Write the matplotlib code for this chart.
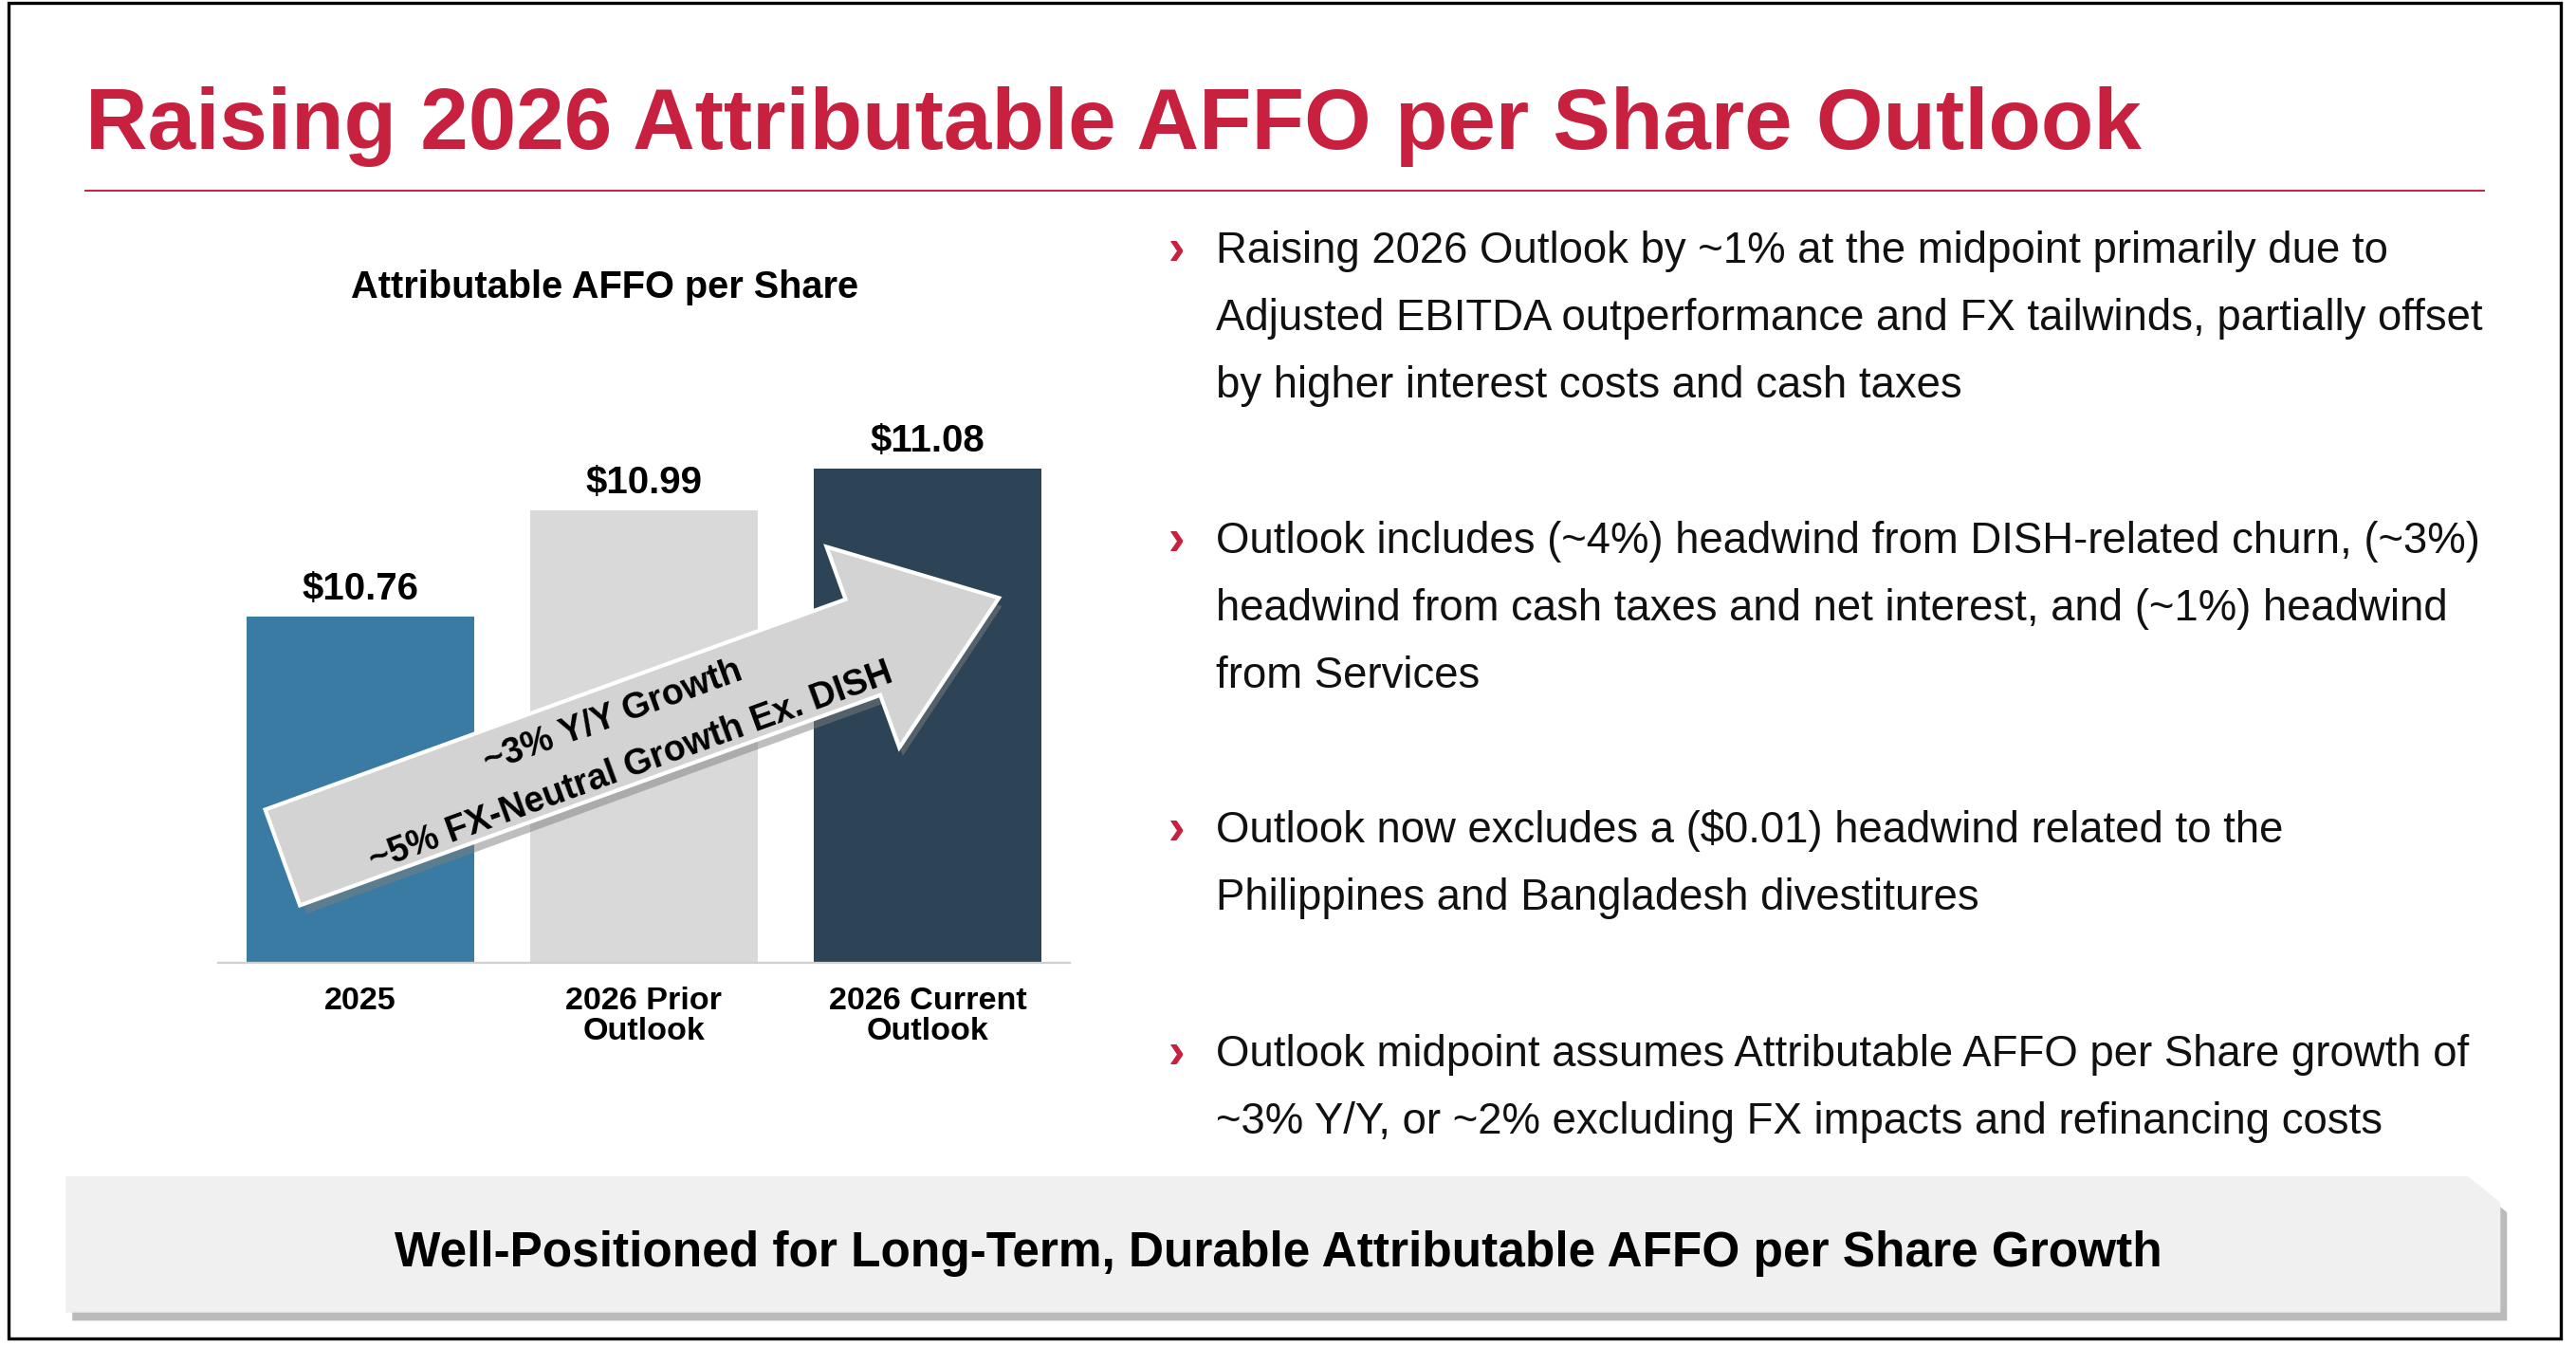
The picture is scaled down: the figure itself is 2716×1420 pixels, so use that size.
import matplotlib
matplotlib.use("Agg")
import matplotlib.pyplot as plt
from matplotlib.patches import FancyArrow, Polygon, Rectangle

plt.rcParams['font.family'] = ['Liberation Sans', 'DejaVu Sans']

categories = ["2025", "2026 Prior\nOutlook", "2026 Current\nOutlook"]
values = [10.76, 10.99, 11.08]
value_labels = ["$10.76", "$10.99", "$11.08"]
colors = ["#3A7BA3", "#D9D9D9", "#2C4456"]
bullets = [
    ["Raising 2026 Outlook by ~1% at the midpoint primarily due to",
     "Adjusted EBITDA outperformance and FX tailwinds, partially offset",
     "by higher interest costs and cash taxes"],
    ["Outlook includes (~4%) headwind from DISH-related churn, (~3%)",
     "headwind from cash taxes and net interest, and (~1%) headwind",
     "from Services"],
    ["Outlook now excludes a ($0.01) headwind related to the",
     "Philippines and Bangladesh divestitures"],
    ["Outlook midpoint assumes Attributable AFFO per Share growth of",
     "~3% Y/Y, or ~2% excluding FX impacts and refinancing costs"],
]
bullet_y = [153, 330, 506, 642]
RED = "#C8203F"

W, H = 1568, 820
fig = plt.figure(figsize=(13.58, 7.10), dpi=200)

x0, x1, ytop, ybot = 133, 651, 240, 586
ax = fig.add_axes([x0 / W, 1 - ybot / H, (x1 - x0) / W, (ybot - ytop) / H], zorder=1)
ax.bar(range(3), values, width=0.8, color=colors, bottom=0)
ax.set_ylim(10.01, 10.01 + 346 * 0.003556)
ax.set_xlim(-0.5, 2.5)
for i, (v, lab) in enumerate(zip(values, value_labels)):
    ax.text(i, v + 0.02, lab, ha="center", va="bottom", fontsize=14.5, fontweight="bold")
ax.set_xticks(range(3))
ax.set_xticklabels(categories, fontsize=12.3, fontweight="bold", linespacing=1.05)
ax.tick_params(length=0, pad=9)
ax.set_yticks([])
for s in ["top", "right", "left"]:
    ax.spines[s].set_visible(False)
ax.spines["bottom"].set_color("#D0D0D0")
ax.patch.set_alpha(0)

ov = fig.add_axes([0, 0, 1, 1], zorder=3)
ov.set_xlim(0, W)
ov.set_ylim(H, 0)
ov.axis("off")
ov.patch.set_alpha(0)

ov.add_patch(Rectangle((5, 2), 1554, 813, fill=False, ec="black", lw=1.2))
ov.text(52, 77, "Raising 2026 Attributable AFFO per Share Outlook", color=RED,
        fontsize=32.7, fontweight="bold", ha="left", va="center")
ov.plot([52, 1512], [116, 116], color=RED, lw=0.7)
ov.text(368, 175, "Attributable AFFO per Share", fontsize=14.3, fontweight="bold",
        ha="center", va="center")

ov.add_patch(FancyArrow(176, 527, 434, -158, width=62, head_width=130, head_length=88,
                        length_includes_head=True, fc="#7F7F7F", ec="none", alpha=0.5,
                        zorder=4))
ov.add_patch(FancyArrow(172, 522, 436, -158, width=62, head_width=130, head_length=88,
                        length_includes_head=True, fc="#D3D3D3", ec="white", lw=1.5,
                        zorder=5))
ov.text(373, 436, "~3% Y/Y Growth", rotation=20, fontsize=13.5, fontweight="bold",
        ha="center", va="center", zorder=6, rotation_mode="anchor")
ov.text(384, 467, "~5% FX-Neutral Growth Ex. DISH", rotation=20, fontsize=13.5,
        fontweight="bold", ha="center", va="center", zorder=6, rotation_mode="anchor")

for lines, y in zip(bullets, bullet_y):
    ov.text(716, y, "›", color=RED, fontsize=19, fontweight="bold", ha="center", va="center")
    for k, line in enumerate(lines):
        ov.text(740, y + 41 * k, line, fontsize=16.4, ha="left", va="center", color="#111111")

ov.add_patch(Polygon([(44, 722), (1506, 722), (1526, 738), (1526, 804), (44, 804)],
                     closed=True, fc="#BBBBBB", ec="none", zorder=1))
ov.add_patch(Polygon([(40, 716), (1502, 716), (1522, 732), (1522, 799), (40, 799)],
                     closed=True, fc="#EFF0EF", ec="none", zorder=2))
ov.text(778, 763, "Well-Positioned for Long-Term, Durable Attributable AFFO per Share Growth",
        fontsize=18.5, fontweight="bold", ha="center", va="center", zorder=3)

fig.savefig("out.png", dpi=200)
